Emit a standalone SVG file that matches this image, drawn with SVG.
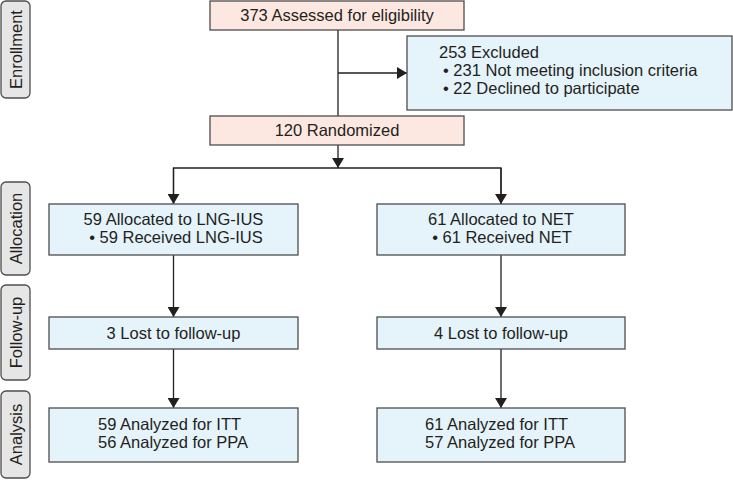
<svg xmlns="http://www.w3.org/2000/svg" width="733" height="480" viewBox="0 0 733 480">
<defs>
<style>
text{font-family:"Liberation Sans",Arial,sans-serif;font-size:16.5px;fill:#231f20}
.lt{font-size:16.5px}
.pink{fill:#fde8e1;stroke:#4d4d4d;stroke-width:1.3}
.blue{fill:#e5f3fb;stroke:#4d4d4d;stroke-width:1.3}
.lab{fill:#e6e6e6;stroke:#4d4d4d;stroke-width:1.3}
.c{text-anchor:middle}
.ln{fill:none;stroke:#231f20;stroke-width:1.3}
</style>
<marker id="ah" viewBox="0 0 10 12" refX="10" refY="6" markerWidth="10" markerHeight="12" markerUnits="userSpaceOnUse" orient="auto">
<path d="M0,0 L10,6 L0,12 z" fill="#231f20"/>
</marker>
</defs>
<rect width="733" height="480" fill="#fff"/>
<g id="label-enrollment"><rect class="lab" x="1" y="1" width="29" height="97" rx="5"/><text class="c lt" transform="translate(21.5,49.5) rotate(-90)">Enrollment</text></g>
<g id="label-allocation"><rect class="lab" x="1" y="182" width="29" height="93" rx="5"/><text class="c lt" transform="translate(21.5,228.5) rotate(-90)">Allocation</text></g>
<g id="label-followup"><rect class="lab" x="1" y="285" width="29" height="95" rx="5"/><text class="c lt" transform="translate(21.5,332.5) rotate(-90)">Follow-up</text></g>
<g id="label-analysis"><rect class="lab" x="1" y="391" width="29" height="87" rx="5"/><text class="c lt" transform="translate(21.5,434.5) rotate(-90)">Analysis</text></g>
<g id="connectors">
<line class="ln" x1="338" y1="30" x2="338" y2="116"/>
<line class="ln" x1="338" y1="73" x2="407" y2="73" marker-end="url(#ah)"/>
<line class="ln" x1="338" y1="145" x2="338" y2="168" marker-end="url(#ah)"/>
<polyline class="ln" points="173.5,204 173.5,168 501,168 501,204"/>
<line class="ln" x1="173.5" y1="168" x2="173.5" y2="204" marker-end="url(#ah)"/>
<line class="ln" x1="501" y1="168" x2="501" y2="204" marker-end="url(#ah)"/>
<line class="ln" x1="173.5" y1="255" x2="173.5" y2="317" marker-end="url(#ah)"/>
<line class="ln" x1="501" y1="255" x2="501" y2="317" marker-end="url(#ah)"/>
<line class="ln" x1="173.5" y1="349" x2="173.5" y2="408" marker-end="url(#ah)"/>
<line class="ln" x1="501" y1="349" x2="501" y2="408" marker-end="url(#ah)"/>
</g>
<g id="assessed"><rect class="pink" x="210" y="1" width="254" height="29"/><text class="c" x="337" y="21">373 Assessed for eligibility</text></g>
<g id="excluded"><rect class="blue" x="407" y="36" width="325" height="74"/>
<text x="439" y="58">253 Excluded</text>
<text x="443" y="76">• 231 Not meeting inclusion criteria</text>
<text x="443" y="94">• 22 Declined to participate</text></g>
<g id="randomized"><rect class="pink" x="210" y="116" width="254" height="29"/><text class="c" x="337" y="136">120 Randomized</text></g>
<g id="alloc-lng"><rect class="blue" x="49" y="204" width="249" height="51"/><text class="c" x="173.5" y="225">59 Allocated to LNG-IUS</text><text class="c" x="176" y="243">• 59 Received LNG-IUS</text></g>
<g id="alloc-net"><rect class="blue" x="377" y="204" width="248" height="51"/><text class="c" x="501" y="225">61 Allocated to NET</text><text class="c" x="502" y="243">• 61 Received NET</text></g>
<g id="fu-lng"><rect class="blue" x="49" y="317" width="249" height="32"/><text class="c" x="173.5" y="339">3 Lost to follow-up</text></g>
<g id="fu-net"><rect class="blue" x="377" y="317" width="248" height="32"/><text class="c" x="501" y="339">4 Lost to follow-up</text></g>
<g id="an-lng"><rect class="blue" x="49" y="408" width="249" height="54"/><text x="98" y="430">59 Analyzed for ITT</text><text x="98" y="448">56 Analyzed for PPA</text></g>
<g id="an-net"><rect class="blue" x="377" y="408" width="248" height="54"/><text x="425" y="430">61 Analyzed for ITT</text><text x="425" y="448">57 Analyzed for PPA</text></g>
</svg>
